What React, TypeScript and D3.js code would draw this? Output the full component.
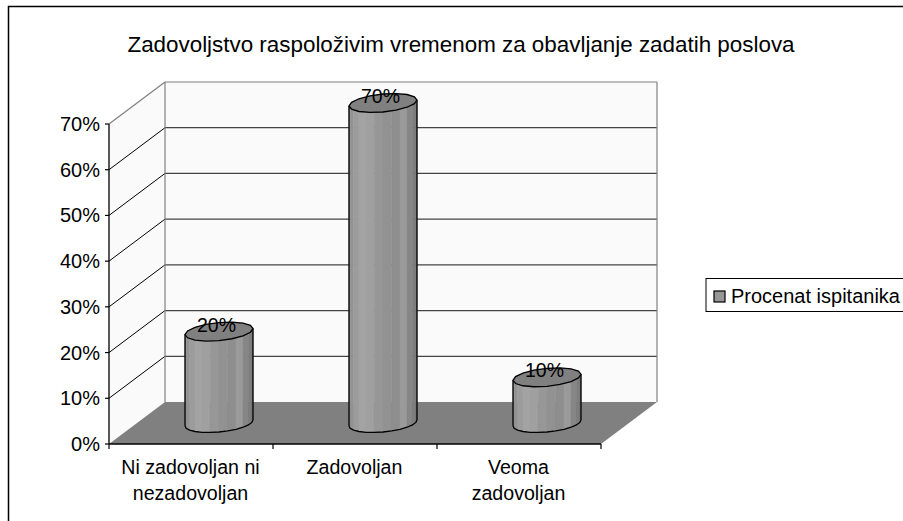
import * as d3 from 'd3';

const categories = [['Ni zadovoljan ni', 'nezadovoljan'], ['Zadovoljan'], ['Veoma', 'zadovoljan']];
const values = [0.2, 0.7, 0.1];
const yTicks = [0, 0.1, 0.2, 0.3, 0.4, 0.5, 0.6, 0.7];
const seriesName = 'Procenat ispitanika';
const title = 'Zadovoljstvo raspoloživim vremenom za obavljanje zadatih poslova';
// shades of the cylinder facets, left to right
const facetShades = ['#878787', '#929292', '#9c9c9c', '#a3a3a3', '#a0a0a0', '#979797', '#929292', '#8e8e8e', '#9a9a9a', '#868686', '#7d7d7d', '#717171'];

const FONT = '"Liberation Sans", Arial, sans-serif';
const depthX = 56;
const depthY = -42;
const barRx = 34;
const barRy = 9;
const barSlope = 3 / 34;

const y = d3.scaleLinear().domain([0, 0.7]).range([444, 124]);
const x = d3.scaleBand().domain(['0', '1', '2']).range([109, 601]);
const fmt = d3.format('.0%');

// cylinder cross section, tilted a little like the Excel one
const ringPoint = (cx: number, cy: number, a: number): [number, number] => [
    cx + barRx * Math.cos(a),
    cy + barRy * Math.sin(a) - barSlope * barRx * Math.cos(a),
];
const ring = d3.line().curve(d3.curveLinearClosed);
const angles = d3.range(0, 16).map(i => (i / 16) * 2 * Math.PI);

function Cylinder({ value, index }: { value: number; index: number }) {
    const cx = x(String(index))! + x.bandwidth() / 2 + 28;
    const base = y(0) + depthY / 2;
    const top = base - (y(0) - y(value));
    const fronts = d3.range(0, 13).map(i => Math.PI - (i / 12) * Math.PI);
    const strips = facetShades.map((shade, i) => {
        const a = ringPoint(cx, top, fronts[i]);
        const b = ringPoint(cx, top, fronts[i + 1]);
        const c = ringPoint(cx, base, fronts[i + 1]);
        const d = ringPoint(cx, base, fronts[i]);
        return <path key={i} d={ring([a, b, c, d]) ?? ''} fill={shade} stroke={shade} strokeWidth={0.5} />;
    });
    const left = ringPoint(cx, top, Math.PI);
    const right = ringPoint(cx, top, 0);
    const lowerArc = d3.line()(fronts.map(a => ringPoint(cx, base, a))) ?? '';
    return (
        <g>
            {strips}
            <path d={lowerArc} fill="none" stroke="#000" strokeWidth={1.3} />
            <line x1={left[0]} y1={left[1]} x2={left[0]} y2={left[1] + (base - top)} stroke="#000" strokeWidth={1.3} />
            <line x1={right[0]} y1={right[1]} x2={right[0]} y2={right[1] + (base - top)} stroke="#000" strokeWidth={1.3} />
            <path d={ring(angles.map(a => ringPoint(cx, top, a))) ?? ''} fill="#808080" stroke="#000" strokeWidth={1.3} />
            <text x={cx - 2.5} y={top} textAnchor="middle" fontSize={19.5} fill="#000" fontFamily={FONT}>{fmt(value)}</text>
        </g>
    );
}

export default function App() {
    const floor = [
        [x.range()[0], y(0)],
        [x.range()[1], y(0)],
        [x.range()[1] + depthX, y(0) + depthY],
        [x.range()[0] + depthX, y(0) + depthY],
    ] as [number, number][];
    const backLeft = x.range()[0] + depthX;
    const backRight = x.range()[1] + depthX;
    const tickXs = [...x.domain().map(d => x(d)!), x.range()[1]];

    return (
        <svg width={903} height={521} style={{ position: 'absolute', left: 0, top: 0, display: 'block', background: '#fff' }}>
            <rect x={8.5} y={6.5} width={920} height={560} fill="#fff" stroke="#000" strokeWidth={1.5} />

            <text x={461} y={52} textAnchor="middle" fontSize={22.4} fill="#000" fontFamily={FONT}>{title}</text>

            {/* walls */}
            <rect x={backLeft} y={y(0.7) + depthY} width={backRight - backLeft} height={y(0) - y(0.7)} fill="#fafafa" />
            <path d={ring([[x.range()[0], y(0)], [x.range()[0], y(0.7)], [backLeft, y(0.7) + depthY], [backLeft, y(0) + depthY]]) ?? ''} fill="#fafafa" />
            <path d={ring(floor) ?? ''} fill="#808080" />

            {yTicks.slice(1, -1).map(t => (
                <g key={t}>
                    <line x1={x.range()[0]} y1={y(t)} x2={backLeft} y2={y(t) + depthY} stroke="#000" strokeWidth={1} />
                    <line x1={backLeft} y1={y(t) + depthY} x2={backRight} y2={y(t) + depthY} stroke="#444" strokeWidth={1.2} />
                </g>
            ))}
            <line x1={x.range()[0]} y1={y(0.7)} x2={backLeft} y2={y(0.7) + depthY} stroke="#808080" strokeWidth={1.2} />
            <line x1={backLeft} y1={y(0.7) + depthY} x2={backRight} y2={y(0.7) + depthY} stroke="#808080" strokeWidth={1.2} />
            <line x1={backLeft} y1={y(0.7) + depthY} x2={backLeft} y2={y(0) + depthY} stroke="#808080" strokeWidth={1.2} />
            <line x1={backRight} y1={y(0.7) + depthY} x2={backRight} y2={y(0) + depthY} stroke="#808080" strokeWidth={1.2} />

            {/* axes */}
            <line x1={x.range()[0]} y1={y(0.7)} x2={x.range()[0]} y2={y(0)} stroke="#000" strokeWidth={1.3} />
            <line x1={x.range()[0]} y1={y(0)} x2={x.range()[1]} y2={y(0)} stroke="#000" strokeWidth={1.3} />
            {yTicks.map(t => (
                <g key={t}>
                    <line x1={x.range()[0] - 4} y1={y(t)} x2={x.range()[0]} y2={y(t)} stroke="#000" strokeWidth={1.2} />
                    <text x={x.range()[0] - 9} y={y(t) + 7} textAnchor="end" fontSize={20} fill="#000" fontFamily={FONT}>{fmt(t)}</text>
                </g>
            ))}
            {tickXs.map(tx => (
                <line key={tx} x1={tx} y1={y(0)} x2={tx} y2={y(0) + 5} stroke="#000" strokeWidth={1.2} />
            ))}
            {categories.map((lines, i) => (
                <text key={i} textAnchor="middle" fontSize={19.6} fill="#000" fontFamily={FONT}>
                    {lines.map((l, j) => (
                        <tspan key={j} x={x(String(i))! + x.bandwidth() / 2 - 0.5} y={474 + j * 26}>{l}</tspan>
                    ))}
                </text>
            ))}

            {values.map((v, i) => <Cylinder key={i} value={v} index={i} />)}

            {/* legend */}
            <rect x={706} y={278.5} width={220} height={33} fill="#fff" stroke="#000" strokeWidth={1} />
            <rect x={714} y={291} width={11} height={11} fill="#969696" stroke="#000" strokeWidth={1.2} />
            <text x={731} y={303} fontSize={20} fill="#000" fontFamily={FONT}>{seriesName}</text>
        </svg>
    );
}
